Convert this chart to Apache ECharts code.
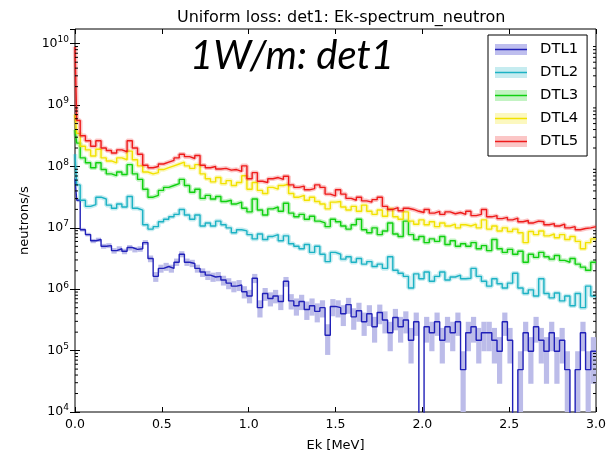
<!DOCTYPE html>
<html>
<head>
<meta charset="utf-8">
<script src="https://cdn.jsdelivr.net/npm/echarts@6/dist/echarts.min.js"></script>
<style>
  html, body { margin: 0; padding: 0; background: #fff; }
  #chart { width: 613px; height: 457px; }
</style>
</head>
<body>
<div id="chart"></div>
<script>
// bin edges in MeV: a narrow first bin, then 0.02, then 0.03 MeV bins up to 3.0
const binEdges = [0, 0.01];
for (let i = 1; i <= 100; i++) binEdges.push(+(0.03 * i).toFixed(2));

// log10(neutrons/s) per bin; null = empty bin
const dtl5 = [
  9.95, 8.75, 8.5, 8.42, 8.33, 8.42, 8.3, 8.26, 8.22, 8.27,
  8.24, 8.42, 8.3, 8.2, 8.02, 7.98, 8.0, 8.04, 8.07, 8.1,
  8.14, 8.2, 8.16, 8.13, 8.18, 8.02, 7.98, 8.0, 7.96, 7.97,
  7.94, 7.95, 7.92, 8.01, 7.8, 7.9, 7.76, 7.74, 7.8, 7.82,
  7.79, 7.84, 7.7, 7.66, 7.68, 7.62, 7.64, 7.7, 7.66, 7.55,
  7.52, 7.62, 7.55, 7.48, 7.45, 7.5, 7.44, 7.42, 7.46, 7.5,
  7.35, 7.3, 7.33, 7.28, 7.32, 7.3, 7.27, 7.25, 7.3, 7.24,
  7.27, 7.22, 7.26, 7.23, 7.25, 7.22, 7.27, 7.2, 7.22, 7.3,
  7.18, 7.2, 7.15, 7.17, 7.13, 7.16, 7.1, 7.12, 7.08, 7.11,
  7.1, 7.05, 7.07, 7.03, 7.06, 7.0, 7.02, 6.97, 6.99, 7.0,
  7.02
];
const dtl4 = [
  8.85, 8.54, 8.33, 8.27, 8.17, 8.28, 8.14, 8.09, 8.06, 8.14,
  8.11, 8.25, 8.11, 8.01, 7.91, 7.88, 7.9, 7.95, 7.98, 8.01,
  8.04, 8.07, 8.01, 7.97, 8.03, 7.88, 7.8, 7.75, 7.82, 7.72,
  7.77, 7.69, 7.74, 7.85, 7.63, 7.74, 7.61, 7.56, 7.66, 7.63,
  7.69, 7.71, 7.56, 7.5, 7.53, 7.45, 7.5, 7.43, 7.39, 7.31,
  7.42, 7.43, 7.34, 7.29, 7.35, 7.27, 7.37, 7.27, 7.22, 7.29,
  7.19, 7.31, 7.18, 7.14, 7.26, 7.11, 7.06, 7.13, 7.05, 7.1,
  7.02, 7.08, 7.03, 7.06, 7.0, 7.05, 7.03, 7.06, 7.0, 7.13,
  6.98, 7.03, 6.95, 7.0, 6.94, 6.98, 6.92, 6.76, 6.94, 6.89,
  6.95, 6.87, 6.9, 6.84, 6.89, 6.81, 6.86, 6.78, 6.66, 6.76,
  6.82
];
const dtl3 = [
  8.6, 8.38, 8.14, 8.06, 7.98, 8.06, 7.95, 7.88, 7.85, 7.91,
  7.87, 8.03, 7.88, 7.79, 7.63, 7.5, 7.53, 7.61, 7.66, 7.69,
  7.72, 7.79, 7.69, 7.58, 7.63, 7.48, 7.53, 7.47, 7.51, 7.43,
  7.45, 7.39, 7.42, 7.32, 7.26, 7.47, 7.29, 7.21, 7.31, 7.34,
  7.27, 7.4, 7.24, 7.18, 7.22, 7.14, 7.19, 7.11, 7.08, 7.02,
  7.14, 7.1, 7.03, 6.98, 7.05, 7.14, 6.97, 6.92, 7.0, 6.89,
  6.95, 7.08, 6.9, 6.86, 7.11, 6.89, 6.81, 6.86, 6.76, 6.82,
  6.78, 6.86, 6.73, 6.79, 6.7, 6.74, 6.7, 6.76, 6.66, 6.71,
  6.63, 6.81, 6.66, 6.6, 6.65, 6.57, 6.62, 6.44, 6.57, 6.52,
  6.6, 6.53, 6.49, 6.55, 6.47, 6.44, 6.5, 6.41, 6.36, 6.31,
  6.44
];
const dtl2 = [
  8.2, 7.7, 7.45, 7.35, 7.38, 7.5, 7.47, 7.37, 7.32, 7.39,
  7.34, 7.51, 7.32, 7.29, 7.05, 6.98, 7.02, 7.1, 7.14, 7.18,
  7.22, 7.3, 7.21, 7.14, 7.21, 7.03, 7.08, 7.03, 7.11, 7.05,
  7.0, 6.92, 6.97, 6.95, 6.89, 6.82, 6.9, 6.81, 6.86, 6.89,
  6.79, 6.87, 6.74, 6.7, 6.66, 6.73, 6.6, 6.7, 6.57, 6.45,
  6.6, 6.57, 6.49, 6.53, 6.44, 6.5, 6.41, 6.45, 6.37, 6.41,
  6.34, 6.53, 6.31, 6.26, 6.21, 6.02, 6.25, 6.17, 6.28, 6.13,
  6.21, 6.28, 6.15, 6.2, 6.23, 6.17, 6.18, 6.34, 6.21, 6.13,
  6.05, 6.17, 6.09, 6.02, 6.1, 6.26, 6.02, 5.93, 5.99, 5.89,
  6.17, 5.93, 5.86, 5.94, 5.81, 5.89, 5.73, 5.93, 5.7, 6.05,
  5.89
];
const dtl1 = [
  7.8, 7.45, 6.97, 6.89, 6.79, 6.81, 6.7, 6.71, 6.63, 6.66,
  6.62, 6.68, 6.65, 6.66, 6.76, 6.5, 6.21, 6.34, 6.37, 6.34,
  6.44, 6.57, 6.44, 6.42, 6.34, 6.28, 6.23, 6.2, 6.21, 6.15,
  6.1, 6.05, 6.07, 5.96, 5.89, 6.18, 5.7, 5.93, 5.85, 5.89,
  5.8, 6.13, 5.81, 5.73, 5.8, 5.67, 5.73, 5.64, 5.7, 5.25,
  5.72, 5.7, 5.6, 5.75, 5.55, 5.65, 5.47, 5.6, 5.39, 5.62,
  5.5, 5.29, 5.54, 5.39, 5.5, 5.17, 5.47, null, 5.39, 5.29,
  5.47, 5.17, 5.39, 5.29, 5.47, 4.69, 5.29, 5.39, 5.17, 5.29,
  5.29, 5.17, 4.99, 5.47, 5.17, null, 4.69, 5.29, 4.99, 5.39,
  5.17, 4.99, 5.29, 4.99, 5.17, 4.69, null, 4.69, 5.29, 4.69,
  4.99
];
// DTL1 error band (log10), null lower edge = band reaches zero
const dtl1Lo = [
  7.77, 7.42, 6.94, 6.86, 6.75, 6.77, 6.66, 6.67, 6.58, 6.61,
  6.57, 6.63, 6.6, 6.61, 6.72, 6.44, 6.12, 6.27, 6.3, 6.27,
  6.38, 6.52, 6.38, 6.36, 6.27, 6.2, 6.15, 6.12, 6.13, 6.06,
  6.0, 5.95, 5.97, 5.85, 5.77, 6.1, 5.54, 5.81, 5.72, 5.77,
  5.66, 6.04, 5.67, 5.57, 5.66, 5.5, 5.57, 5.46, 5.54, 4.93,
  5.56, 5.54, 5.4, 5.6, 5.34, 5.47, 5.24, 5.4, 5.13, 5.43,
  5.28, 4.99, 5.33, 5.13, 5.28, 4.79, 5.24, null, 5.13, 4.99,
  5.24, 4.79, 5.13, 4.99, 5.24, null, 4.99, 5.13, 4.79, 4.99,
  4.99, 4.79, 4.46, 5.24, 4.79, null, null, 4.99, 4.46, 5.13,
  4.79, 4.46, 4.99, 4.46, 4.79, null, null, null, 4.99, null,
  4.46
];
const dtl1Hi = [
  7.82, 7.48, 7.0, 6.92, 6.82, 6.84, 6.74, 6.75, 6.67, 6.7,
  6.66, 6.72, 6.69, 6.7, 6.8, 6.55, 6.28, 6.4, 6.43, 6.4,
  6.5, 6.62, 6.5, 6.48, 6.4, 6.34, 6.3, 6.27, 6.28, 6.22,
  6.18, 6.13, 6.15, 6.05, 5.99, 6.25, 5.82, 6.02, 5.95, 5.99,
  5.91, 6.2, 5.92, 5.85, 5.91, 5.8, 5.85, 5.77, 5.82, 5.43,
  5.84, 5.82, 5.74, 5.86, 5.69, 5.78, 5.62, 5.74, 5.55, 5.75,
  5.64, 5.47, 5.68, 5.55, 5.64, 5.37, 5.62, null, 5.55, 5.47,
  5.62, 5.37, 5.55, 5.47, 5.62, 4.99, 5.47, 5.55, 5.37, 5.47,
  5.47, 5.37, 5.22, 5.62, 5.37, null, 4.99, 5.47, 5.22, 5.55,
  5.37, 5.22, 5.47, 5.22, 5.37, 4.99, null, 4.99, 5.47, 4.99,
  5.22
];

const names = ['DTL1', 'DTL2', 'DTL3', 'DTL4', 'DTL5'];
const values = [dtl1, dtl2, dtl3, dtl4, dtl5];
const lineColors = ['#2121b8', '#1cb2c4', '#10d010', '#f2e200', '#ee1b1b'];
const bandColors = ['rgba(40,40,200,0.3)', 'rgba(28,178,196,0.25)', 'rgba(16,208,16,0.25)', 'rgba(242,226,0,0.25)', 'rgba(238,27,27,0.25)'];

const yMin = 4;
const yMax = 10.24;
const yFloor = 2; // empty bins fall below the axis

const font = 'DejaVu Sans';

function stepData(vals) {
  const pts = vals.map((v, i) => [binEdges[i], v == null ? yFloor : v]);
  pts.push([binEdges[vals.length], pts[pts.length - 1][1]]);
  return pts;
}

function legendIcon(line, band) {
  const svg = '<svg xmlns="http://www.w3.org/2000/svg" width="32" height="11">' +
    '<rect x="0" y="0" width="32" height="11" fill="' + band + '"/>' +
    '<line x1="0" y1="5.5" x2="32" y2="5.5" stroke="' + line + '" stroke-width="1.5"/></svg>';
  return 'image://data:image/svg+xml;charset=utf-8,' + encodeURIComponent(svg);
}

const minorTicks = [];
for (let d = yMin; d < yMax; d++) {
  for (let k = 2; k <= 9; k++) {
    const v = d + Math.log10(k);
    if (v < yMax) minorTicks.push([0, v]);
  }
}

const chart = echarts.init(document.getElementById('chart'));

const series = [];

// DTL1 uncertainty band as per-bin rectangles
series.push({
  name: 'DTL1 band',
  type: 'custom',
  silent: true,
  z: 1,
  data: dtl1Hi.map((hi, i) => [binEdges[i], binEdges[i + 1], dtl1Lo[i] == null ? yFloor : dtl1Lo[i], hi])
    .filter(d => d[3] != null),
  encode: { x: [0, 1], y: [2, 3] },
  renderItem(params, api) {
    const p0 = api.coord([api.value(0), api.value(3)]);
    const p1 = api.coord([api.value(1), api.value(2)]);
    const cs = params.coordSys;
    const rect = echarts.graphic.clipRectByRect(
      { x: p0[0], y: p0[1], width: p1[0] - p0[0], height: p1[1] - p0[1] },
      { x: cs.x, y: cs.y, width: cs.width, height: cs.height }
    );
    if (!rect) return;
    return { type: 'rect', shape: rect, style: { fill: '#bcbce9' } };
  }
});

values.forEach((vals, i) => {
  if (i > 0) {
    series.push({
      name: names[i] + ' band',
      type: 'line',
      step: 'end',
      data: stepData(vals),
      showSymbol: false,
      silent: true,
      lineStyle: { color: bandColors[i], width: 4.5 },
      z: 2 + i * 2
    });
  }
  series.push({
    name: names[i],
    type: 'line',
    step: 'end',
    data: stepData(vals),
    showSymbol: false,
    silent: true,
    lineStyle: { color: lineColors[i], width: 1.4 },
    itemStyle: { color: lineColors[i] },
    z: 3 + i * 2
  });
});

// log minor ticks on left and right edges
series.push({
  name: 'minor ticks',
  type: 'custom',
  silent: true,
  z: 20,
  data: minorTicks,
  renderItem(params, api) {
    const y = api.coord([0, api.value(1)])[1];
    const cs = params.coordSys;
    const st = { stroke: '#000', lineWidth: 1 };
    return {
      type: 'group',
      children: [
        { type: 'line', shape: { x1: cs.x, y1: y, x2: cs.x + 3, y2: y }, style: st },
        { type: 'line', shape: { x1: cs.x + cs.width - 3, y1: y, x2: cs.x + cs.width, y2: y }, style: st }
      ]
    };
  }
});

const tick = { inside: true, length: 5, lineStyle: { color: '#000', width: 1 } };

chart.setOption({
  animation: false,
  title: {
    text: 'Uniform loss: det1: Ek-spectrum_neutron',
    left: 172,
    top: 5,
    textStyle: { fontFamily: font, fontSize: 16, fontWeight: 'normal', color: '#000' }
  },
  legend: {
    orient: 'vertical',
    left: 488,
    top: 35,
    padding: [7, 9, 7, 7],
    itemWidth: 32,
    itemHeight: 11,
    itemGap: 8,
    backgroundColor: '#fff',
    borderColor: '#000',
    borderWidth: 1,
    selectedMode: false,
    textStyle: { fontFamily: font, fontSize: 14.8, color: '#000', lineHeight: 15, padding: [0, 0, 0, 8] },
    data: names.map((n, i) => ({ name: n, icon: legendIcon(lineColors[i], bandColors[i]) }))
  },
  grid: {
    left: 75, right: 17, top: 29, bottom: 39,
    show: true, borderColor: '#000', borderWidth: 1, backgroundColor: 'transparent'
  },
  xAxis: [{
    type: 'value', min: 0, max: 3, interval: 0.5,
    axisLine: { show: false }, splitLine: { show: false },
    axisTick: tick,
    axisLabel: { formatter: v => v.toFixed(1), fontFamily: font, fontSize: 12.5, color: '#000', margin: 6 },
    name: 'Ek [MeV]', nameLocation: 'middle', nameGap: 27,
    nameTextStyle: { fontFamily: font, fontSize: 13, color: '#000' }
  }, {
    type: 'value', min: 0, max: 3, interval: 0.5, position: 'top',
    axisLine: { show: false }, splitLine: { show: false },
    axisTick: tick, axisLabel: { show: false }
  }],
  yAxis: [{
    type: 'value', min: yMin, max: yMax, interval: 1,
    axisLine: { show: false }, splitLine: { show: false },
    axisTick: tick,
    axisLabel: {
      margin: 6,
      showMaxLabel: false,
      formatter: v => Math.abs(v - Math.round(v)) < 1e-6 ? '{b|10}{s|' + Math.round(v) + '}' : '',
      rich: {
        b: { fontFamily: font, fontSize: 12.5, color: '#000' },
        s: { fontFamily: font, fontSize: 9, color: '#000', padding: [0, 0, 8, 0] }
      }
    },
    name: 'neutrons/s', nameLocation: 'middle', nameGap: 40,
    nameTextStyle: { fontFamily: font, fontSize: 13, color: '#000' }
  }, {
    type: 'value', min: yMin, max: yMax, interval: 1, position: 'right',
    axisLine: { show: false }, splitLine: { show: false },
    axisTick: tick, axisLabel: { show: false }
  }],
  graphic: [{
    type: 'text',
    left: 190,
    top: 36,
    z: 30,
    style: { text: '1W/m: det1', font: 'italic 40px Lato', fill: '#000' }
  }],
  series: series
});
</script>
</body>
</html>
